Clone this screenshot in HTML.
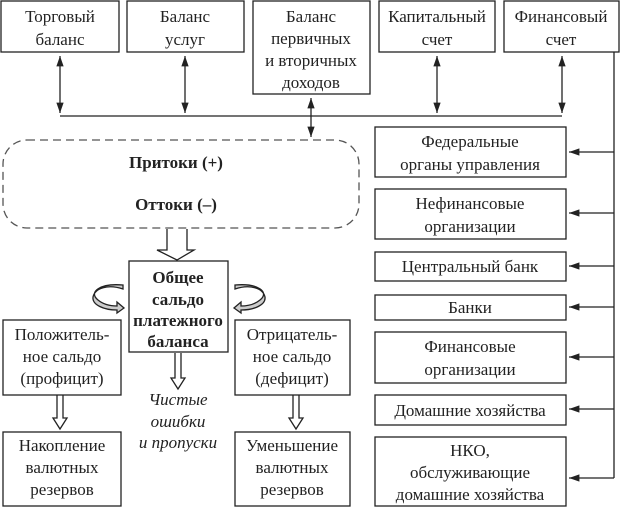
<!DOCTYPE html>
<html><head><meta charset="utf-8"><style>
html,body{margin:0;padding:0;background:#fff}
svg text{font-family:"Liberation Serif",serif;font-size:17px;fill:#222}
.b{font-weight:bold}
</style></head><body>
<svg width="621" height="508" viewBox="0 0 621 508" xmlns="http://www.w3.org/2000/svg">
<defs>
<marker id="a" viewBox="0 0 10 10" refX="10" refY="5" markerWidth="8" markerHeight="8" orient="auto-start-reverse"><path d="M0,1.5 L10,5 L0,8.5 z" fill="#222"/></marker>
</defs>
<g fill="none" stroke="#222" stroke-width="1.3">
<rect x="1" y="1" width="118" height="51"/>
<rect x="127" y="1" width="117" height="51"/>
<rect x="253" y="1" width="117" height="93"/>
<rect x="379" y="1" width="116" height="51"/>
<rect x="504" y="1" width="115" height="51"/>
<line x1="60" y1="116" x2="562" y2="116"/>
<line x1="60" y1="56" x2="60" y2="113" marker-start="url(#a)" marker-end="url(#a)"/>
<line x1="185" y1="56" x2="185" y2="113" marker-start="url(#a)" marker-end="url(#a)"/>
<line x1="437" y1="56" x2="437" y2="113" marker-start="url(#a)" marker-end="url(#a)"/>
<line x1="562" y1="56" x2="562" y2="113" marker-start="url(#a)" marker-end="url(#a)"/>
<line x1="311" y1="98" x2="311" y2="137" marker-start="url(#a)" marker-end="url(#a)"/>
<rect x="3" y="140" width="356" height="88" rx="24" stroke="#555" stroke-dasharray="8,5"/>
<line x1="614" y1="52" x2="614" y2="478"/>
<rect x="375" y="127" width="191" height="50"/>
<rect x="375" y="189" width="191" height="50"/>
<rect x="375" y="252" width="191" height="29"/>
<rect x="375" y="295" width="191" height="25"/>
<rect x="375" y="332" width="191" height="51"/>
<rect x="375" y="395" width="191" height="30"/>
<rect x="375" y="437" width="191" height="69"/>
<line x1="614" y1="152" x2="569" y2="152" marker-end="url(#a)"/>
<line x1="614" y1="213" x2="569" y2="213" marker-end="url(#a)"/>
<line x1="614" y1="266" x2="569" y2="266" marker-end="url(#a)"/>
<line x1="614" y1="307" x2="569" y2="307" marker-end="url(#a)"/>
<line x1="614" y1="357" x2="569" y2="357" marker-end="url(#a)"/>
<line x1="614" y1="409" x2="569" y2="409" marker-end="url(#a)"/>
<line x1="614" y1="478" x2="569" y2="478" marker-end="url(#a)"/>
<path d="M167,229 V250 H157 L177,260 L194,250 H187 V229"/>
<rect x="129" y="261" width="99" height="91"/>
<rect x="3" y="320" width="118" height="75"/>
<rect x="235" y="320" width="115" height="75"/>
<rect x="3" y="432" width="118" height="74"/>
<rect x="235" y="432" width="115" height="74"/>
<path d="M57,395 V418 H53 L60,429 L67,418 H63 V395"/>
<path d="M293,395 V418 H289 L296,429 L303,418 H299 V395"/>
<path d="M175,353 V378 H171 L178,389 L185,378 H181 V353"/>
<path d="M123,285 C100,283 88,292 98,300 C104,305 112,306 117,306 L117,302 L124,308 L117,313 L117,310 C104,310 92,305 93,297 C95,288 108,284 123,289 Z" fill="#ccc"/>
<path d="M235,285 C258,283 270,292 260,300 C254,305 246,306 241,306 L241,302 L234,308 L241,313 L241,310 C254,310 266,305 265,297 C263,288 250,284 235,289 Z" fill="#ccc"/>
</g>
<g text-anchor="middle">
<text x="60" y="22">Торговый</text><text x="60" y="45">баланс</text>
<text x="185" y="22">Баланс</text><text x="185" y="45">услуг</text>
<text x="311" y="22">Баланс</text><text x="311" y="44">первичных</text><text x="311" y="66">и вторичных</text><text x="311" y="88">доходов</text>
<text x="437" y="22">Капитальный</text><text x="437" y="45">счет</text>
<text x="561" y="22">Финансовый</text><text x="561" y="45">счет</text>
<text x="176" y="168" class="b">Притоки (+)</text>
<text x="176" y="210" class="b">Оттоки (–)</text>
<text x="470" y="147">Федеральные</text><text x="470" y="170">органы управления</text>
<text x="470" y="209">Нефинансовые</text><text x="470" y="232">организации</text>
<text x="470" y="272">Центральный банк</text>
<text x="470" y="313">Банки</text>
<text x="470" y="352">Финансовые</text><text x="470" y="375">организации</text>
<text x="470" y="416">Домашние хозяйства</text>
<text x="470" y="456">НКО,</text><text x="470" y="478">обслуживающие</text><text x="470" y="500">домашние хозяйства</text>
<text x="178" y="283" class="b">Общее</text><text x="178" y="305" class="b">сальдо</text><text x="178" y="326" class="b">платежного</text><text x="178" y="347" class="b">баланса</text>
<text x="62" y="340">Положитель-</text><text x="62" y="362">ное сальдо</text><text x="62" y="384">(профицит)</text>
<text x="292" y="340">Отрицатель-</text><text x="292" y="362">ное сальдо</text><text x="292" y="384">(дефицит)</text>
<text x="178" y="405" font-style="italic">Чистые</text><text x="178" y="427" font-style="italic">ошибки</text><text x="178" y="448" font-style="italic">и пропуски</text>
<text x="62" y="451">Накопление</text><text x="62" y="473">валютных</text><text x="62" y="495">резервов</text>
<text x="292" y="451">Уменьшение</text><text x="292" y="473">валютных</text><text x="292" y="495">резервов</text>
</g>
</svg>
</body></html>
